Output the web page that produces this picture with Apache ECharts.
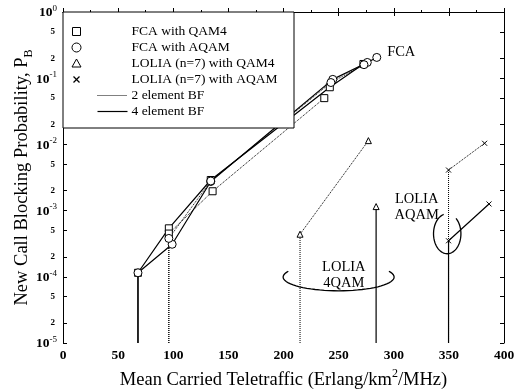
<!DOCTYPE html>
<html>
<head>
<meta charset="utf-8">
<script src="https://cdn.jsdelivr.net/npm/echarts@6/dist/echarts.min.js"></script>
<style>
  html, body { margin: 0; padding: 0; background: #fff; }
  #chart { width: 517px; height: 389px; }
</style>
</head>
<body>
<div id="chart"></div>
<script>
const SERIF = '"Liberation Serif", "Times New Roman", serif';

// Mean carried teletraffic (Erlang/km^2/MHz) and new call blocking probability, per curve
const fcaQam4Bf4X = [68, 96, 134, 242, 272.5];
const fcaQam4Bf4P = [1.15e-4, 5.4e-4, 2.9e-3, 7.3e-2, 0.164];
const fcaAqamBf4X = [68, 99, 134, 244.7, 276, 284.6];
const fcaAqamBf4P = [1.15e-4, 3.1e-4, 2.75e-3, 9.6e-2, 0.173, 0.206];
const fcaQam4Bf2X = [96, 135.7, 237];
const fcaQam4Bf2P = [4.5e-4, 1.96e-3, 5.0e-2];
const fcaAqamBf2X = [96, 134, 243, 273];
const fcaAqamBf2P = [3.8e-4, 2.8e-3, 8.6e-2, 0.16];
const loliaQam4Bf2X = [215, 277];
const loliaQam4Bf2P = [4.4e-4, 1.14e-2];
const loliaQam4Bf4X = [284];
const loliaQam4Bf4P = [1.15e-3];
const loliaAqamBf2X = [349.7, 382.4];
const loliaAqamBf2P = [4.1e-3, 1.04e-2];
const loliaAqamBf4X = [349.7, 386.4];
const loliaAqamBf4P = [3.5e-4, 1.26e-3];

// Axis ranges and tick labels
const xMin = 0, xMax = 400, xStep = 50;
const yDecades = [-5, -4, -3, -2, -1, 0];
const yMantissas = [2, 5];
const PB_FLOOR = 1e-5;   // below this the blocking is drawn as a drop to the axis

// Legend entries
const legendMarkers = ['FCA with QAM4', 'FCA with AQAM', 'LOLIA (n=7) with QAM4', 'LOLIA (n=7) with AQAM'];
const legendLines = ['2 element BF', '4 element BF'];

// Curve annotations (text at traffic / probability)
const noteFca = { text: 'FCA', x: 294, pb: 0.25 };
const noteLolia4qam = { text: 'LOLIA\n4QAM', x: 254.7, pb: 1.06e-4 };
const noteLoliaAqam = { text: 'LOLIA\nAQAM', x: 320.8, pb: 1.11e-3 };
const ring4qam = { x: 250, pb: 9.9e-5 };
const ringAqam = { x: 348.5, pb: 4.47e-4 };

const lg = Math.log10;
const yTickValues = [];
yDecades.forEach(d => {
  yTickValues.push(d);
  if (d < 0) yMantissas.forEach(m => yTickValues.push(d + lg(m)));
});

const X_MARK = 'path://M0 0L10 10M10 0L0 10';

function curve(name, xs, ps, symbol, size, dotted) {
  const data = [{ value: [xs[0], lg(PB_FLOOR)], symbol: 'none' }];
  xs.forEach((x, i) => data.push([x, lg(ps[i])]));
  return {
    type: 'line', name, data,
    symbol, symbolSize: size, showAllSymbol: true,
    lineStyle: { color: '#000', width: dotted ? 1 : 1.2, type: dotted ? 'dotted' : 'solid' },
    itemStyle: { color: symbol === X_MARK ? 'rgba(0,0,0,0)' : '#fff', borderColor: '#000', borderWidth: 1 },
    emphasis: { disabled: true },
    animation: false
  };
}

const chart = echarts.init(document.getElementById('chart'), null, { renderer: 'canvas' });

chart.setOption({
  backgroundColor: '#fff',
  animation: false,
  grid: { left: 63, right: 13, top: 12, bottom: 46, containLabel: false, outerBoundsMode: 'none' },
  xAxis: [{
    type: 'value', min: xMin, max: xMax, interval: xStep,
    name: '{t|Mean Carried Teletraffic (Erlang/km}{s|2}{t|/MHz)}',
    nameLocation: 'middle', nameGap: 25,
    nameTextStyle: {
      rich: {
        t: { fontFamily: SERIF, fontSize: 18.5, color: '#000', lineHeight: 22, verticalAlign: 'bottom' },
        s: { fontFamily: SERIF, fontSize: 12, color: '#000', lineHeight: 12, verticalAlign: 'top' }
      }
    },
    axisLine: { show: true, lineStyle: { color: '#000', width: 1 } },
    axisTick: { show: true, inside: true, length: 4, lineStyle: { color: '#000' } },
    minorTick: { show: true, splitNumber: 2, length: 2, lineStyle: { color: '#000' } },
    axisLabel: { fontFamily: SERIF, color: '#000', fontSize: 13.5, fontWeight: 'bold', margin: 6 },
    splitLine: { show: false }
  }, {
    type: 'value', min: xMin, max: xMax, interval: xStep, position: 'top',
    axisLine: { show: true, onZero: false, lineStyle: { color: '#000', width: 1 } },
    axisTick: { show: true, inside: true, length: 4, lineStyle: { color: '#000' } },
    axisLabel: { show: false },
    splitLine: { show: false }
  }],
  yAxis: [{
    type: 'value', min: -5, max: 0,
    name: '{t|New Call Blocking Probability, P}{sub|B}',
    nameLocation: 'middle', nameGap: 28, nameMoveOverlap: false,
    nameTextStyle: {
      rich: {
        t: { fontFamily: SERIF, fontSize: 18.5, color: '#000', lineHeight: 22, verticalAlign: 'top' },
        sub: { fontFamily: SERIF, fontSize: 12, color: '#000', lineHeight: 12, verticalAlign: 'bottom' }
      }
    },
    axisLine: { show: true, lineStyle: { color: '#000', width: 1 } },
    axisTick: { show: true, inside: true, length: 4, customValues: yTickValues, lineStyle: { color: '#000' } },
    axisLabel: {
      customValues: yTickValues, margin: 6,
      formatter: v => {
        const n = Math.round(v);
        if (Math.abs(v - n) < 1e-6) return '{b|10}{s|' + n + '}';
        return '{m|' + Math.round(Math.pow(10, v - Math.floor(v))) + '}';
      },
      rich: {
        b: { fontFamily: SERIF, fontSize: 13.5, fontWeight: 'bold', color: '#000', lineHeight: 16, verticalAlign: 'bottom' },
        s: { fontFamily: SERIF, fontSize: 9, color: '#000', lineHeight: 9, verticalAlign: 'top' },
        m: { fontFamily: SERIF, fontSize: 9, fontWeight: 'bold', color: '#000', padding: [0, 2, 0, 0] }
      }
    },
    splitLine: { show: false }
  }, {
    type: 'value', min: -5, max: 0, position: 'right',
    axisLine: { show: true, onZero: false, lineStyle: { color: '#000', width: 1 } },
    axisTick: { show: true, inside: true, length: 4, customValues: yTickValues, lineStyle: { color: '#000' } },
    axisLabel: { show: false, customValues: yTickValues },
    splitLine: { show: false }
  }],
  series: [
    curve('FCA with QAM4, 4 element BF', fcaQam4Bf4X, fcaQam4Bf4P, 'rect', 7, false),
    curve('FCA with AQAM, 4 element BF', fcaAqamBf4X, fcaAqamBf4P, 'circle', 8, false),
    curve('FCA with QAM4, 2 element BF', fcaQam4Bf2X, fcaQam4Bf2P, 'rect', 7, true),
    curve('FCA with AQAM, 2 element BF', fcaAqamBf2X, fcaAqamBf2P, 'circle', 8, true),
    curve('LOLIA (n=7) with QAM4, 2 element BF', loliaQam4Bf2X, loliaQam4Bf2P, 'triangle', 6, true),
    curve('LOLIA (n=7) with QAM4, 4 element BF', loliaQam4Bf4X, loliaQam4Bf4P, 'triangle', 6, false),
    curve('LOLIA (n=7) with AQAM, 2 element BF', loliaAqamBf2X, loliaAqamBf2P, X_MARK, 5, true),
    curve('LOLIA (n=7) with AQAM, 4 element BF', loliaAqamBf4X, loliaAqamBf4P, X_MARK, 5, false)
  ]
});

// Annotations, rings and the boxed legend
const px = (x, pb) => chart.convertToPixel({ gridIndex: 0 }, [x, lg(pb)]);
const noteFont = '14.5px ' + SERIF;

function noteText(n, align) {
  const p = px(n.x, n.pb);
  return {
    type: 'text', x: p[0], y: p[1], z: 50,
    style: { text: n.text, font: noteFont, fill: '#000', align: align, verticalAlign: 'middle', lineHeight: 16 }
  };
}

function ring(c, rx, ry, t0, t1) {
  const p = px(c.x, c.pb);
  const pts = [];
  for (let t = t0; t <= t1; t += 5) {
    const a = t * Math.PI / 180;
    pts.push([p[0] + rx * Math.cos(a), p[1] + ry * Math.sin(a)]);
  }
  return { type: 'polyline', z: 50, shape: { points: pts }, style: { stroke: '#000', lineWidth: 1.3, fill: null } };
}

const corner = px(0, 1);
const boxW = 231, boxH = 116;
const LZ = 100;
const legendChildren = [{
  type: 'rect', z: LZ, shape: { x: 0.5, y: 0.5, width: boxW, height: boxH },
  style: { fill: '#fff', stroke: '#000', lineWidth: 1 }
}];
const rowY = i => 20 + i * 16;
const symX = 14, textX = 69;
const sym = (type, shape, style) => ({ type, z: LZ + 1, shape, style });
legendMarkers.forEach((label, i) => {
  const y = rowY(i);
  const st = { fill: '#fff', stroke: '#000', lineWidth: 1 };
  if (i === 0) legendChildren.push(sym('rect', { x: symX - 4, y: y - 4, width: 8, height: 8 }, st));
  if (i === 1) legendChildren.push(sym('circle', { cx: symX, cy: y, r: 4.5 }, st));
  if (i === 2) legendChildren.push(sym('polygon', { points: [[symX, y - 4.5], [symX + 4.5, y + 3.5], [symX - 4.5, y + 3.5]] }, st));
  if (i === 3) {
    legendChildren.push(sym('polyline', { points: [[symX - 3, y - 3], [symX + 3, y + 3]] }, { stroke: '#000', lineWidth: 1.2 }));
    legendChildren.push(sym('polyline', { points: [[symX + 3, y - 3], [symX - 3, y + 3]] }, { stroke: '#000', lineWidth: 1.2 }));
  }
  legendChildren.push({ type: 'text', z: LZ + 1, x: textX, y: y, style: { text: label, font: '13.5px ' + SERIF, fill: '#000', verticalAlign: 'middle' } });
});
legendLines.forEach((label, j) => {
  const y = rowY(4 + j);
  legendChildren.push(sym('polyline', { points: [[35, y], [65, y]] },
    { stroke: '#000', lineWidth: j === 0 ? 1 : 1.2, lineDash: j === 0 ? [1, 1] : null }));
  legendChildren.push({ type: 'text', z: LZ + 1, x: textX, y: y, style: { text: label, font: '13.5px ' + SERIF, fill: '#000', verticalAlign: 'middle' } });
});

chart.setOption({
  graphic: [
    noteText(noteFca, 'left'),
    noteText(noteLolia4qam, 'center'),
    noteText(noteLoliaAqam, 'center'),
    ring(ring4qam, 55.5, 13.7, -25, 205),
    ring(ringAqam, 13.7, 20, -50, 255),
    { type: 'group', x: Math.round(corner[0]) - 0.5, y: Math.round(corner[1]) - 0.5, z: LZ, children: legendChildren }
  ]
});
</script>
</body>
</html>
